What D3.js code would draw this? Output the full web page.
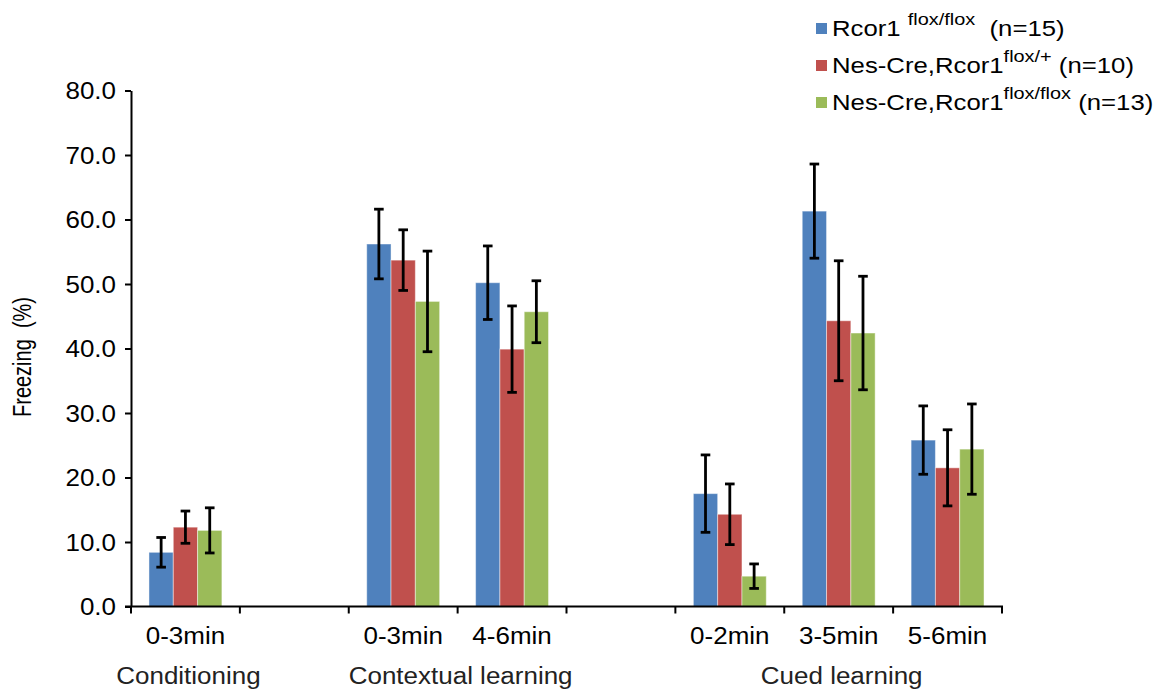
<!DOCTYPE html>
<html lang="en">
<head>
<meta charset="utf-8">
<title>Freezing</title>
<script src="https://d3js.org/d3.v7.min.js"></script>
<style>
  body { margin: 0; background: #fff; }
  text { font-family: "Liberation Sans", Arial, sans-serif; fill: #000; }
</style>
</head>
<body>
<div id="chart"></div>
<script>
// slots along the x axis (two are empty spacers)
var slots = ["cond03", "gap1", "ctx03", "ctx46", "gap2", "cue02", "cue35", "cue56"];
var slotLabels = ["0-3min", "", "0-3min", "4-6min", "", "0-2min", "3-5min", "5-6min"];
var groupNames = ["Conditioning", "Contextual learning", "Cued learning"];
var groupSlots = [["cond03"], ["ctx03", "ctx46"], ["cue02", "cue35", "cue56"]];

var series = ["rcor", "het", "ko"];
var seriesColors = ["#4f81bd", "#c0504d", "#9bbb59"];
var legendMain = ["Rcor1 ", "Nes-Cre,Rcor1", "Nes-Cre,Rcor1"];
var legendSup = ["flox/flox", "flox/+", "flox/flox"];
var legendN = ["  (n=15)", " (n=10)", " (n=13)"];

// freezing % (mean) and sem, null = empty slot
var meanRcor = [8.4, null, 56.2, 50.2, null, 17.5, 61.3, 25.8];
var meanHet  = [12.3, null, 53.7, 39.9, null, 14.3, 44.3, 21.5];
var meanKo   = [11.8, null, 47.3, 45.7, null, 4.7, 42.4, 24.4];
var semRcor  = [2.3, null, 5.4, 5.7, null, 6.0, 7.3, 5.3];
var semHet   = [2.5, null, 4.7, 6.7, null, 4.7, 9.3, 5.9];
var semKo    = [3.5, null, 7.8, 4.8, null, 1.9, 8.8, 7.0];

var yTicks = [0, 10, 20, 30, 40, 50, 60, 70, 80];

var means = [meanRcor, meanHet, meanKo];
var sems = [semRcor, semHet, semKo];

var W = 1175, H = 693;
var sx = 1.13; // source text is stretched horizontally

var svg = d3.select("#chart").append("svg")
    .attr("width", W)
    .attr("height", H);

var x0 = d3.scaleBand().domain(slots).range([131, 1002]).padding(0);
var x1 = d3.scaleBand().domain(series).range([0, x0.bandwidth()])
    .paddingInner(0).paddingOuter(0.74);
var y = d3.scaleLinear().domain([0, 80]).range([606.5, 90.5]);

// rows for bars
var rows = [];
series.forEach(function(s, si) {
  slots.forEach(function(k, i) {
    if (means[si][i] != null) {
      rows.push({slot: k, series: s, color: seriesColors[si], v: means[si][i], e: sems[si][i]});
    }
  });
});

svg.append("g").selectAll("rect")
  .data(rows)
  .enter().append("rect")
    .attr("x", function(d) { return x0(d.slot) + x1(d.series); })
    .attr("y", function(d) { return y(d.v); })
    .attr("width", x1.bandwidth())
    .attr("height", function(d) { return y(0) - y(d.v); })
    .attr("fill", function(d) { return d.color; })
    .attr("stroke", "#fff")
    .attr("stroke-opacity", 0.45)
    .attr("stroke-width", 1);

// error bars
var eb = svg.append("g").attr("stroke", "#000").attr("stroke-width", 2.8);
rows.forEach(function(d) {
  var cx = x0(d.slot) + x1(d.series) + x1.bandwidth() / 2;
  eb.append("line").attr("x1", cx).attr("x2", cx)
    .attr("y1", y(d.v + d.e)).attr("y2", y(d.v - d.e));
  [d.v + d.e, d.v - d.e].forEach(function(v) {
    eb.append("line").attr("x1", cx - 4.8).attr("x2", cx + 4.8)
      .attr("y1", y(v)).attr("y2", y(v));
  });
});

// y axis
var yAxis = svg.append("g")
  .attr("transform", "translate(131,0)")
  .call(d3.axisLeft(y).tickValues(yTicks).tickSize(6).tickSizeOuter(0)
        .tickFormat(d3.format(".1f")));
yAxis.select(".domain").attr("stroke", "#000").attr("stroke-width", 2);
yAxis.selectAll(".tick line").attr("stroke", "#000").attr("stroke-width", 2);
yAxis.selectAll(".tick text")
  .attr("font-size", 23)
  .attr("font-family", "Liberation Sans, Arial, sans-serif")
  .attr("fill", "#000")
  .attr("x", -15 / sx)
  .attr("dy", "0.36em")
  .attr("transform", "scale(" + sx + ",1)");

// x axis line and boundary ticks
var xa = svg.append("g").attr("stroke", "#000").attr("stroke-width", 2);
xa.append("line").attr("x1", 125).attr("x2", x0.range()[1] + 1)
  .attr("y1", y(0)).attr("y2", y(0));
slots.concat(["end"]).forEach(function(k, i) {
  var bx = i < slots.length ? x0(k) : x0.range()[1];
  xa.append("line").attr("x1", bx).attr("x2", bx)
    .attr("y1", y(0)).attr("y2", y(0) + 7);
});

// slot labels
slots.forEach(function(k, i) {
  if (!slotLabels[i]) return;
  svg.append("text")
    .attr("transform", "translate(" + (x0(k) + x0.bandwidth() / 2) + ",644) scale(" + sx + ",1)")
    .attr("text-anchor", "middle")
    .attr("font-size", 23)
    .text(slotLabels[i]);
});

// group labels
groupNames.forEach(function(g, i) {
  var ks = groupSlots[i];
  var cx = (x0(ks[0]) + x0(ks[ks.length - 1]) + x0.bandwidth()) / 2;
  svg.append("text")
    .attr("transform", "translate(" + (cx + 3) + ",684) scale(" + sx + ",1)")
    .attr("text-anchor", "middle")
    .attr("font-size", 23)
    .style("fill", "#222")
    .text(g);
});

// y title
svg.append("text")
  .attr("transform", "translate(31,357) scale(1.3,1) rotate(-90)")
  .attr("text-anchor", "middle")
  .attr("font-size", 20)
  .style("white-space", "pre")
  .text("Freezing  (%)");

// legend
var baselines = [36, 73, 110];
series.forEach(function(s, i) {
  var by = baselines[i];
  svg.append("rect")
    .attr("x", 816).attr("y", by - 13)
    .attr("width", 11).attr("height", 11)
    .attr("fill", seriesColors[i]);
  var t = svg.append("text")
    .attr("transform", "translate(832," + by + ") scale(1.17,1)")
    .attr("font-size", 22)
    .style("white-space", "pre");
  t.append("tspan").attr("y", 0).text(legendMain[i]);
  t.append("tspan").attr("y", -11).attr("font-size", 17).text(legendSup[i]);
  t.append("tspan").attr("y", 0).text(legendN[i]);
});
</script>
</body>
</html>
